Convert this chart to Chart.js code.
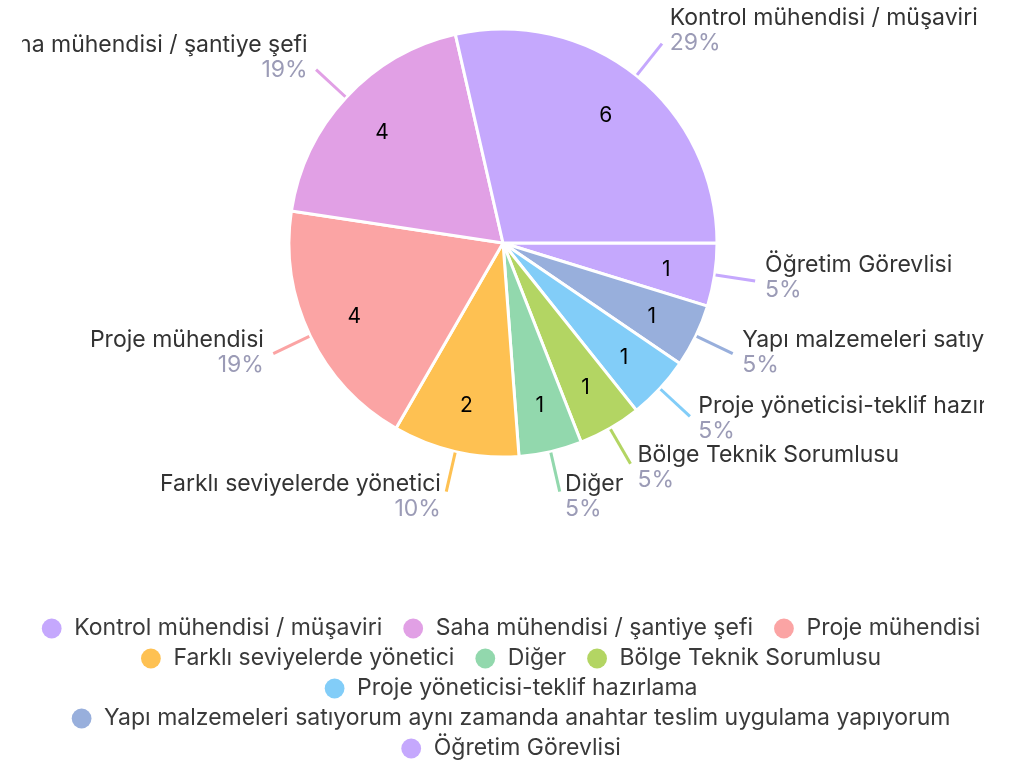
<!DOCTYPE html>
<html>
<head>
<meta charset="utf-8">
<script src="https://cdn.jsdelivr.net/npm/chart.js@4/dist/chart.umd.min.js"></script>
<style>
  html, body { margin: 0; padding: 0; background: #ffffff; }
  #wrap { width: 1013px; height: 764px; }
</style>
</head>
<body>
<div id="wrap"><canvas id="c" width="1013" height="764"></canvas></div>
<script>
// ---- data (legend order) ----
const categories = [
  "Kontrol mühendisi / müşaviri",
  "Saha mühendisi / şantiye şefi",
  "Proje mühendisi",
  "Farklı seviyelerde yönetici",
  "Diğer",
  "Bölge Teknik Sorumlusu",
  "Proje yöneticisi-teklif hazırlama",
  "Yapı malzemeleri satıyorum aynı zamanda anahtar teslim uygulama yapıyorum",
  "Öğretim Görevlisi"
];
const counts = [6, 4, 4, 2, 1, 1, 1, 1, 1];
const sliceColors = [
  "#c5a8fd", "#e1a0e5", "#fba4a4", "#fec152", "#92d8ad",
  "#b3d563", "#82cdf8", "#98afdc", "#c5a8fd"
];

// slices run counter-clockwise from 3 o'clock: feed reversed order, draw clockwise
const dsLabels = categories.slice().reverse();
const dsValues = counts.slice().reverse();
const dsColors = sliceColors.slice().reverse();

const FONT = "Inter, 'Open Sans', sans-serif";
const CLIP_INSET = 22;
const LEGEND_SHIFT = 14;

const outerLabels = {
  id: 'outerLabels',
  afterDatasetsDraw(chart) {
    const ctx = chart.ctx;
    const meta = chart.getDatasetMeta(0);
    const ds = chart.data.datasets[0];
    const total = ds.data.reduce((a, b) => a + b, 0);
    const area = chart.chartArea;
    meta.data.forEach((arc, i) => {
      const p = arc.getProps(['x', 'y', 'startAngle', 'endAngle', 'outerRadius'], true);
      const mid = (p.startAngle + p.endAngle) / 2;
      const cos = Math.cos(mid), sin = Math.sin(mid);
      ctx.save();
      // value inside slice
      const rIn = p.outerRadius * 0.771;
      ctx.fillStyle = '#000000';
      ctx.font = '21px ' + FONT;
      ctx.textAlign = 'center';
      ctx.textBaseline = 'middle';
      ctx.fillText(String(ds.data[i]), p.x + cos * rIn, p.y + sin * rIn + 2);
      // leader line
      const r1 = p.outerRadius + 1, r2 = p.outerRadius + 41;
      ctx.strokeStyle = ds.backgroundColor[i];
      ctx.lineWidth = 3;
      ctx.beginPath();
      ctx.moveTo(p.x + cos * r1, p.y + sin * r1);
      ctx.lineTo(p.x + cos * r2, p.y + sin * r2);
      ctx.stroke();
      // outer text
      ctx.beginPath();
      ctx.rect(area.left + CLIP_INSET, 0, area.right - area.left - 2 * CLIP_INSET, chart.height);
      ctx.clip();
      const ex = p.x + cos * r2, ey = p.y + sin * r2;
      const right = cos >= 0;
      const tx = ex + (right ? 1 : -1) * (4 + 6 * Math.abs(cos));
      const cy = ey + 10 * sin - 5;
      ctx.textAlign = right ? 'left' : 'right';
      ctx.font = '23px ' + FONT;
      ctx.fillStyle = '#333333';
      ctx.fillText(chart.data.labels[i], tx, cy - 12.5);
      ctx.fillStyle = '#9b9bb6';
      ctx.fillText(Math.round(ds.data[i] / total * 100) + '%', tx, cy + 12.5);
      ctx.restore();
    });
  }
};

const legendShift = {
  id: 'legendShift',
  afterLayout(chart) {
    const lg = chart.legend;
    if (lg) { lg.left += LEGEND_SHIFT; lg.right += LEGEND_SHIFT; }
  }
};

new Chart(document.getElementById('c'), {
  type: 'pie',
  data: {
    labels: dsLabels,
    datasets: [{
      data: dsValues,
      backgroundColor: dsColors,
      borderColor: '#ffffff',
      borderWidth: 3,
      hoverBorderWidth: 3,
      radius: 214
    }]
  },
  options: {
    responsive: false,
    animation: false,
    events: [],
    rotation: 90,
    layout: { padding: { top: 28, bottom: -6, left: 0, right: 7 } },
    plugins: {
      tooltip: { enabled: false },
      legend: {
        position: 'bottom',
        reverse: true,
        title: { display: true, text: '', padding: { top: 140, bottom: 0 }, font: { size: 12, lineHeight: 1 } },
        labels: {
          usePointStyle: true,
          boxWidth: 22,
          boxHeight: 14,
          padding: 7,
          color: '#3a3a3a',
          font: { family: FONT, size: 23 },
          generateLabels(chart) {
            const base = Chart.overrides.pie.plugins.legend.labels.generateLabels(chart);
            return base.map(l => Object.assign({}, l, { lineWidth: 0, strokeStyle: 'rgba(0,0,0,0)', text: l.text + '  ' }));
          }
        }
      }
    }
  },
  plugins: [outerLabels, legendShift]
});
</script>
</body>
</html>
